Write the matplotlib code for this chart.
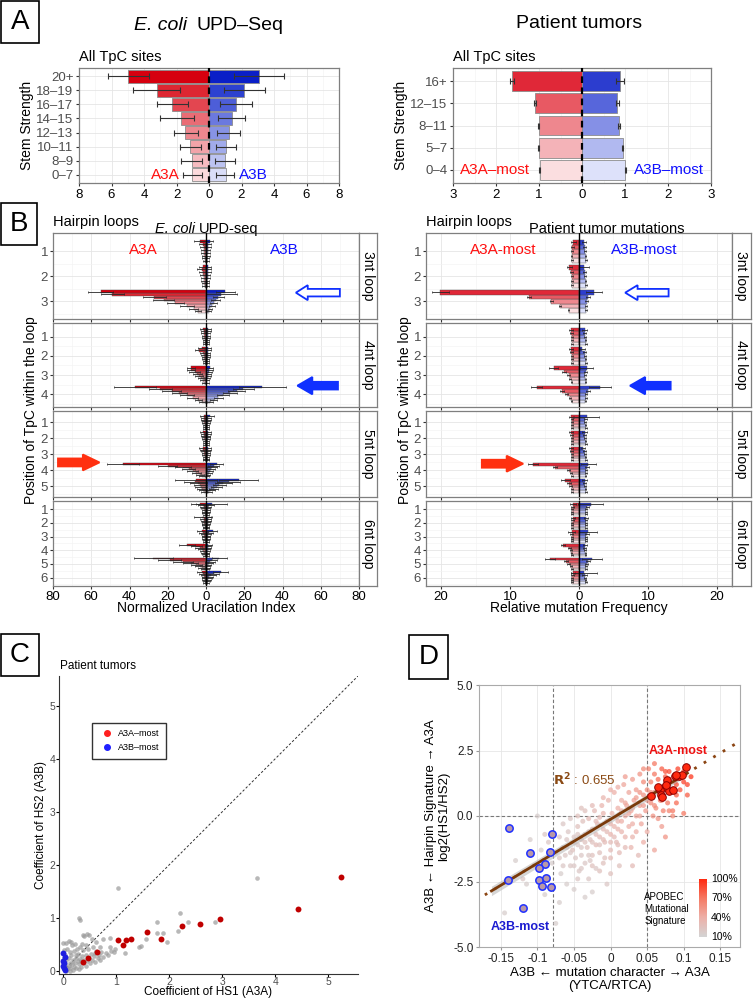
import numpy as np
import matplotlib.pyplot as plt
from matplotlib.patches import Rectangle, FancyArrow
from matplotlib.colors import LinearSegmentedColormap
from matplotlib.lines import Line2D

plt.rcParams['font.family'] = ['Liberation Sans', 'DejaVu Sans']

W, H = 754, 999

# ---------------- panel A: stem strength ----------------
ecoli_stems = ['0–7', '8–9', '10–11', '12–13', '14–15', '16–17', '18–19', '20+']
ecoli_a3a = [1.03, 1.07, 1.15, 1.46, 1.73, 2.26, 3.23, 4.96]
ecoli_a3a_lo = [0.41, 0.41, 0.50, 0.70, 0.95, 1.32, 1.77, 3.72]
ecoli_a3a_hi = [1.63, 1.73, 1.77, 2.18, 3.00, 3.17, 4.67, 6.20]
ecoli_a3b = [1.03, 0.99, 1.03, 1.21, 1.40, 1.67, 2.18, 3.09]
ecoli_a3b_lo = [0.41, 0.39, 0.45, 0.51, 0.58, 0.70, 0.93, 1.56]
ecoli_a3b_hi = [1.56, 1.60, 1.65, 1.91, 2.22, 2.63, 3.46, 4.59]

tumor_stems = ['0–4', '5–7', '8–11', '12–15', '16+']
tumor_a3a = [0.98, 1.01, 1.01, 1.10, 1.62]
tumor_a3a_err = [0.01, 0.01, 0.015, 0.02, 0.05]
tumor_a3b = [1.01, 0.95, 0.86, 0.82, 0.88]
tumor_a3b_err = [0.01, 0.01, 0.015, 0.03, 0.09]

ecoli_reds = ['#FBDADC', '#F6BBC0', '#F2A3A9', '#EE878F', '#E96C75', '#E34650', '#DD2732', '#D6000F']
ecoli_blues = ['#D9DDF8', '#BCC3F1', '#A1ABEB', '#8793E5', '#6B79DF', '#4D5ED8', '#2D42D0', '#0A1FC7']
tumor_reds = ['#FBDEE0', '#F4B3B8', '#EE878E', '#E85963', '#E02838']
tumor_blues = ['#DDE1FA', '#B1B9F0', '#8590E6', '#5766DB', '#2C3DCF']

# ---------------- panel B: hairpin loops ----------------
# per loop -> per position -> values per stem group (weakest ... strongest)
ecoli_loop_a3a = [
    [[0.6, 0.7, 0.8, 0.9, 1.0, 1.2, 1.4, 3.1],
     [0.7, 0.8, 1.0, 1.2, 1.4, 1.8, 2.2, 1.8],
     [4.0, 6.5, 10.0, 16.0, 22.0, 27.0, 49.0, 55.0]],
    [[0.5, 0.6, 0.7, 0.8, 0.9, 1.0, 1.1, 1.5],
     [0.5, 0.6, 0.8, 1.0, 1.2, 1.5, 3.5, 2.0],
     [1.0, 1.5, 2.5, 3.5, 4.5, 6.0, 8.0, 8.0],
     [2.0, 4.0, 7.0, 10.0, 14.0, 18.0, 24.0, 37.0]],
    [[0.5, 0.6, 0.7, 0.8, 0.9, 1.0, 1.1, 1.3],
     [0.5, 0.6, 0.7, 0.8, 0.9, 1.0, 1.2, 1.5],
     [0.5, 0.6, 0.7, 0.9, 1.0, 1.2, 1.4, 1.8],
     [2.0, 3.0, 5.0, 7.0, 9.0, 12.0, 20.0, 43.5],
     [1.0, 1.5, 2.0, 2.5, 3.0, 4.0, 5.5, 5.0]],
    [[0.5, 0.6, 0.7, 0.8, 1.0, 1.2, 1.5, 3.0],
     [0.5, 0.6, 0.7, 0.8, 0.9, 1.0, 1.3, 2.0],
     [0.5, 0.6, 0.7, 0.8, 0.9, 1.2, 1.5, 2.0],
     [0.5, 0.8, 1.0, 1.5, 2.0, 3.0, 5.0, 10.0],
     [1.0, 2.0, 3.0, 5.0, 8.0, 12.0, 19.0, 27.5],
     [0.5, 0.6, 0.7, 0.8, 0.9, 1.0, 1.5, 2.0]],
]
ecoli_loop_a3a_err = [
    [[1.2, 1.3, 1.4, 1.5, 1.6, 1.8, 2.0, 3.2],
     [1.2, 1.3, 1.4, 1.6, 1.8, 2.0, 2.4, 2.0],
     [1.5, 2.5, 3.5, 4.5, 5.5, 6.0, 6.0, 6.5]],
    [[1.0, 1.0, 1.1, 1.2, 1.3, 1.4, 1.5, 1.8],
     [1.0, 1.1, 1.2, 1.3, 1.5, 1.8, 2.5, 2.0],
     [1.2, 1.4, 1.6, 2.0, 2.4, 2.8, 2.0, 2.0],
     [1.5, 2.0, 3.0, 3.5, 4.0, 5.0, 6.0, 11.0]],
    [[1.0, 1.0, 1.1, 1.2, 1.3, 1.4, 1.5, 1.8],
     [1.0, 1.0, 1.1, 1.2, 1.3, 1.4, 1.6, 1.8],
     [1.0, 1.0, 1.1, 1.2, 1.3, 1.5, 1.7, 2.0],
     [1.5, 2.0, 2.5, 3.0, 3.5, 4.0, 5.0, 8.5],
     [1.5, 2.0, 2.5, 3.0, 3.5, 4.5, 6.0, 11.0]],
    [[1.2, 1.3, 1.4, 1.5, 1.6, 1.8, 2.5, 5.0],
     [1.0, 1.1, 1.2, 1.3, 1.4, 1.6, 2.0, 4.5],
     [1.0, 1.1, 1.2, 1.3, 1.4, 1.6, 2.0, 2.5],
     [1.0, 1.2, 1.4, 1.6, 2.0, 2.5, 3.0, 4.0],
     [1.5, 2.0, 2.5, 3.0, 4.0, 5.0, 6.0, 10.0],
     [1.0, 1.1, 1.2, 1.3, 1.4, 1.6, 2.0, 2.5]],
]
ecoli_loop_a3b = [
    [[0.5, 0.6, 0.7, 0.8, 0.9, 1.0, 1.2, 2.0],
     [0.5, 0.6, 0.7, 0.8, 0.9, 1.0, 1.1, 1.0],
     [1.5, 2.0, 3.0, 4.0, 5.0, 6.5, 8.0, 10.0]],
    [[0.5, 0.6, 0.7, 0.8, 0.9, 1.0, 1.1, 1.3],
     [0.5, 0.6, 0.7, 0.8, 0.9, 1.0, 1.1, 1.2],
     [0.5, 0.7, 0.9, 1.1, 1.3, 1.5, 1.8, 2.0],
     [2.0, 4.0, 6.5, 9.0, 12.5, 16.0, 19.5, 29.5]],
    [[0.5, 0.6, 0.7, 0.8, 0.9, 1.0, 1.2, 2.0],
     [0.5, 0.6, 0.7, 0.8, 0.9, 1.0, 1.1, 1.3],
     [0.5, 0.6, 0.7, 0.8, 0.9, 1.0, 1.1, 1.2],
     [0.8, 1.0, 1.5, 2.0, 2.5, 3.0, 4.0, 5.5],
     [1.5, 2.5, 4.0, 5.5, 7.0, 9.0, 12.0, 17.0]],
    [[0.5, 0.6, 0.7, 0.8, 0.9, 1.0, 1.5, 3.0],
     [0.5, 0.6, 0.7, 0.8, 0.9, 1.0, 1.1, 1.5],
     [0.5, 0.6, 0.7, 0.8, 0.9, 1.0, 1.5, 3.5],
     [0.5, 0.6, 0.7, 0.8, 0.9, 1.0, 1.1, 1.3],
     [0.5, 0.7, 0.9, 1.2, 1.5, 2.0, 3.0, 7.0],
     [0.6, 0.8, 1.0, 1.3, 1.7, 2.5, 4.0, 7.7]],
]
ecoli_loop_a3b_err = [
    [[1.0, 1.1, 1.2, 1.3, 1.4, 1.5, 1.6, 1.8],
     [1.0, 1.0, 1.1, 1.2, 1.3, 1.4, 1.5, 1.5],
     [1.0, 1.2, 1.5, 2.0, 2.5, 3.0, 8.0, 5.0]],
    [[1.0, 1.0, 1.1, 1.1, 1.2, 1.3, 1.4, 1.5],
     [1.0, 1.0, 1.1, 1.1, 1.2, 1.3, 1.4, 1.5],
     [1.0, 1.1, 1.2, 1.3, 1.4, 1.5, 1.6, 1.8],
     [1.5, 2.0, 2.5, 3.0, 3.5, 4.5, 5.5, 12.5]],
    [[1.0, 1.0, 1.1, 1.2, 1.3, 1.4, 1.6, 2.0],
     [1.0, 1.0, 1.1, 1.1, 1.2, 1.3, 1.4, 1.5],
     [1.0, 1.0, 1.1, 1.1, 1.2, 1.3, 1.4, 1.5],
     [1.0, 1.2, 1.4, 1.6, 2.0, 2.5, 3.0, 3.5],
     [1.5, 2.0, 2.5, 3.0, 3.5, 4.5, 6.0, 10.0]],
    [[1.0, 1.1, 1.2, 1.3, 1.4, 1.6, 2.5, 8.0],
     [1.0, 1.0, 1.1, 1.2, 1.3, 1.4, 1.5, 1.8],
     [1.0, 1.1, 1.2, 1.3, 1.4, 1.5, 2.0, 2.5],
     [1.0, 1.0, 1.1, 1.2, 1.3, 1.4, 1.5, 1.6],
     [1.0, 1.2, 1.4, 1.6, 2.0, 2.5, 3.0, 4.0],
     [1.0, 1.2, 1.4, 1.6, 2.0, 2.5, 3.0, 4.0]],
]

tumor_loop_a3a = [
    [[1.0, 1.05, 1.0, 0.95, 0.8],
     [1.0, 1.0, 1.05, 1.1, 1.4],
     [1.5, 2.75, 4.0, 7.2, 20.1]],
    [[1.0, 1.0, 1.05, 1.1, 1.2],
     [1.0, 1.0, 1.05, 1.1, 1.2],
     [1.06, 1.3, 1.5, 2.2, 3.7],
     [1.06, 1.3, 1.8, 2.5, 6.1]],
    [[1.0, 1.0, 1.0, 1.0, 1.1],
     [1.0, 1.0, 1.0, 1.05, 1.1],
     [1.0, 1.0, 1.05, 1.1, 1.2],
     [1.0, 1.2, 1.5, 3.5, 6.7],
     [1.0, 1.05, 1.2, 1.5, 2.0]],
    [[1.0, 1.0, 0.95, 0.9, 0.9],
     [1.0, 1.0, 0.95, 0.9, 0.9],
     [1.0, 1.0, 1.0, 1.05, 1.06],
     [1.0, 1.1, 1.2, 1.4, 2.3],
     [1.0, 1.2, 1.5, 1.9, 4.2],
     [1.0, 1.0, 0.95, 0.9, 0.9]],
]
tumor_loop_a3a_err = [
    [[0.1, 0.1, 0.15, 0.2, 0.3],
     [0.1, 0.1, 0.15, 0.2, 0.4],
     [0.1, 0.15, 0.2, 0.3, 1.3]],
    [[0.1, 0.1, 0.15, 0.2, 0.3],
     [0.1, 0.1, 0.15, 0.2, 0.3],
     [0.1, 0.15, 0.2, 0.3, 0.65],
     [0.1, 0.15, 0.2, 0.3, 0.8]],
    [[0.1, 0.1, 0.15, 0.2, 0.3],
     [0.1, 0.1, 0.15, 0.2, 0.3],
     [0.1, 0.1, 0.15, 0.2, 0.3],
     [0.1, 0.15, 0.2, 0.3, 0.7],
     [0.1, 0.15, 0.2, 0.3, 0.65]],
    [[0.1, 0.1, 0.15, 0.2, 0.4],
     [0.1, 0.1, 0.15, 0.2, 0.3],
     [0.1, 0.1, 0.15, 0.2, 0.5],
     [0.1, 0.1, 0.15, 0.2, 0.3],
     [0.1, 0.15, 0.2, 0.3, 0.7],
     [0.1, 0.1, 0.15, 0.2, 0.3]],
]
tumor_loop_a3b = [
    [[1.0, 0.95, 0.9, 0.85, 0.7],
     [1.0, 0.95, 0.9, 0.8, 0.7],
     [1.0, 1.05, 1.1, 1.35, 2.2]],
    [[1.0, 0.95, 0.9, 0.85, 0.8],
     [1.0, 0.95, 0.9, 0.8, 0.5],
     [0.95, 0.9, 0.9, 0.95, 1.1],
     [0.9, 0.95, 1.0, 1.35, 3.0]],
    [[1.0, 0.95, 0.9, 0.9, 1.1],
     [1.0, 0.95, 0.9, 0.85, 0.8],
     [1.0, 0.95, 0.9, 0.8, 0.6],
     [0.95, 0.95, 1.0, 1.1, 1.35],
     [1.0, 0.95, 0.9, 0.85, 0.8]],
    [[1.0, 1.0, 1.05, 1.2, 1.7],
     [1.0, 1.0, 1.0, 1.0, 1.0],
     [1.0, 1.0, 1.05, 1.1, 1.35],
     [0.95, 0.9, 0.85, 0.85, 0.85],
     [1.0, 1.0, 1.1, 1.3, 1.9],
     [1.0, 0.95, 0.9, 0.8, 0.7]],
]
tumor_loop_a3b_err = [
    [[0.1, 0.1, 0.15, 0.2, 0.3],
     [0.1, 0.1, 0.15, 0.2, 0.75],
     [0.1, 0.15, 0.2, 0.3, 1.2]],
    [[0.1, 0.1, 0.15, 0.2, 0.3],
     [0.1, 0.1, 0.15, 0.2, 0.3],
     [0.1, 0.1, 0.15, 0.2, 1.0],
     [0.1, 0.15, 0.2, 0.3, 1.6]],
    [[0.1, 0.1, 0.15, 0.2, 1.8],
     [0.1, 0.1, 0.15, 0.2, 0.3],
     [0.1, 0.1, 0.15, 0.2, 0.3],
     [0.1, 0.15, 0.2, 0.3, 1.05],
     [0.1, 0.1, 0.15, 0.2, 0.3]],
    [[0.1, 0.1, 0.15, 0.2, 1.8],
     [0.1, 0.1, 0.15, 0.2, 0.3],
     [0.1, 0.1, 0.15, 0.3, 1.3],
     [0.1, 0.1, 0.15, 0.2, 0.3],
     [0.1, 0.15, 0.2, 0.3, 1.5],
     [0.1, 0.1, 0.15, 0.3, 1.9]],
]
loop_names = ['3nt loop', '4nt loop', '5nt loop', '6nt loop']

# ---------------- panel C: HS coefficients ----------------
c_red_x = [5.24, 4.42, 2.95, 2.58, 2.24, 1.84, 1.58, 1.27, 1.19, 1.13, 1.04, 0.63, 0.46, 0.38]
c_red_y = [1.76, 1.17, 0.97, 0.88, 0.84, 0.60, 0.74, 0.60, 0.59, 0.48, 0.59, 0.35, 0.25, 0.16]
c_blue_x = [0.00, 0.04, 0.00, 0.02, 0.00, 0.01, 0.03]
c_blue_y = [0.33, 0.27, 0.18, 0.15, 0.10, 0.05, 0.02]
c_gray_x = [3.65, 1.03, 2.21, 0.30, 0.31, 2.87, 2.35, 1.76, 2.16, 1.77, 1.89, 1.96, 1.57, 1.46,
            1.43, 1.16, 0.89, 0.88, 0.98, 0.45, 0.37, 0.11, 0.00,
            0.02, 0.03, 0.05, 0.06, 0.08, 0.10, 0.10, 0.12, 0.13, 0.15, 0.16, 0.18, 0.20, 0.20,
            0.22, 0.24, 0.25, 0.27, 0.28, 0.30, 0.31, 0.32, 0.34, 0.35, 0.37, 0.38, 0.40, 0.42,
            0.43, 0.45, 0.47, 0.48, 0.50, 0.52, 0.55, 0.56, 0.58, 0.60, 0.62, 0.65, 0.68, 0.70,
            0.72, 0.75, 0.80, 0.85, 0.90, 0.95, 0.04, 0.08, 0.12, 0.16, 0.05, 0.22, 0.26, 0.00,
            0.01, 0.14, 0.35, 0.43, 0.70, 0.05, 0.18, 0.30, 0.02, 0.75, 0.62, 0.55, 0.40, 0.48,
            0.12, 0.25, 0.33, 0.60]
c_gray_y = [1.75, 1.56, 1.09, 0.99, 0.95, 0.93, 0.93, 0.92, 0.75, 0.72, 0.72, 0.55, 0.60, 0.46,
            0.44, 0.33, 0.61, 0.45, 0.41, 0.70, 0.67, 0.57, 0.52,
            0.05, 0.12, 0.08, 0.20, 0.03, 0.10, 0.25, 0.15, 0.05, 0.30, 0.12, 0.20, 0.08, 0.38,
            0.15, 0.25, 0.05, 0.18, 0.32, 0.12, 0.45, 0.22, 0.08, 0.28, 0.15, 0.40, 0.20, 0.10,
            0.30, 0.18, 0.42, 0.25, 0.14, 0.32, 0.20, 0.45, 0.28, 0.16, 0.38, 0.24, 0.30, 0.20,
            0.36, 0.27, 0.33, 0.30, 0.38, 0.35, 0.30, 0.42, 0.35, 0.48, 0.52, 0.50, 0.42, 0.20,
            0.40, 0.55, 0.50, 0.48, 0.45, 0.00, 0.02, 0.03, 0.25, 0.60, 0.55, 0.60, 0.65, 0.68,
            0.00, 0.30, 0.18, 0.33]

# ---------------- panel D: hairpin signature vs mutation character ----------------
d_x = [-0.145, -0.13, -0.12, -0.11, -0.10, -0.09, -0.085, -0.078, -0.075, -0.07, -0.068, -0.065,
       -0.06, -0.06, -0.058, -0.055, -0.052, -0.05, -0.05, -0.048, -0.045, -0.045, -0.043, -0.04,
       -0.04, -0.038, -0.035, -0.035, -0.032, -0.03, -0.03, -0.028, -0.025, -0.025, -0.022, -0.02,
       -0.02, -0.018, -0.015, -0.015, -0.012, -0.01, -0.01, -0.008, -0.005, -0.005, -0.003, 0.0,
       0.0, 0.002, 0.005, 0.005, 0.008, 0.01, 0.01, 0.012, 0.015, 0.015, 0.018, 0.02, 0.02, 0.022,
       0.025, 0.025, 0.028, 0.03, 0.03, 0.032, 0.035, 0.035, 0.038, 0.04, 0.04, 0.042, 0.045,
       0.045, 0.048, 0.05, 0.05, 0.052, 0.055, 0.055, 0.058, 0.06, 0.06, 0.062, 0.065, 0.068,
       0.07, 0.07, 0.072, 0.075, 0.078, 0.08, 0.082, 0.085, 0.088, 0.09, 0.092, 0.095, 0.10, 0.105,
       -0.095, -0.105, -0.115, -0.09, -0.07, -0.055, -0.04, -0.025, 0.0, 0.03, 0.06, 0.075, -0.065,
       -0.035, -0.015, 0.008, 0.045, 0.065, 0.085, 0.10, -0.062, -0.028, -0.008, 0.012, 0.028,
       -0.045, -0.05, -0.045, -0.04, -0.035, -0.03, -0.03, -0.025, -0.02, -0.02, -0.015, -0.01,
       -0.01, -0.005, 0.0, 0.0, 0.005, 0.01, 0.015, 0.015, 0.02, 0.025, 0.03, 0.03, 0.035, 0.04,
       0.04, 0.045, 0.05, 0.055, 0.06, 0.065, 0.07, 0.075, 0.08, 0.085, 0.09, -0.055, -0.06,
       -0.065, -0.07, -0.075, -0.08, -0.05, -0.04, -0.025, -0.015, 0.0, 0.01, 0.02, 0.035, -0.045,
       -0.035, -0.025, -0.01, 0.0, 0.01, 0.02, 0.045, 0.06, 0.075, 0.08, 0.09, 0.095, 0.10, 0.105,
       0.11]
d_y = [-3.7, -1.7, -2.4, -0.9, 0.0, -0.7, -1.0, -2.7, -4.1, -1.6, -2.2, -0.3,
       -1.2, -2.6, -0.6, -1.9, -1.3, -0.8, -2.8, -1.6, -0.4, -1.1, -2.1, -0.9,
       -1.5, -0.2, -1.8, -0.7, -1.2, -2.4, -0.1, -0.9, -1.5, -0.5, 0.2, -1.1,
       -2.0, -0.3, -0.8, -1.4, 0.4, -0.5, -1.8, -1.0, -0.2, -2.6, 0.6, -0.7,
       -1.3, 0.1, -0.4, 0.9, -1.0, 0.3, -0.2, -1.9, 0.6, -0.6, 1.2, 0.0, -1.2, 0.4,
       0.9, -0.4, 0.2, 1.4, -0.8, 0.6, 0.0, 1.0, -1.5, 0.4, 1.6, -0.3, 0.8,
       1.3, 0.2, 1.0, -0.6, 1.8, 0.5, 1.3, 0.0, 1.6, 0.9, 0.3, 1.4, 0.6,
       1.8, -0.4, 0.2, 1.5, 0.5, 1.7, 0.9, 0.0, 1.3, 0.5, 1.8, 1.0, 1.3, 0.8,
       -1.3, -1.9, -2.6, -3.0, -3.3, -0.1, 0.3, -2.9, -2.2, -1.9, -1.3, -0.8, -1.9,
       -3.1, -0.05, -0.05, -1.0, -0.1, 0.2, 0.1, -1.5, -1.7, -1.6, -1.4, -1.2,
       -2.4, -1.0, -0.7, -1.2, -1.0, -0.6, -1.5, -1.0, -0.7, -0.2, -1.1, -0.9,
       0.1, -0.6, -0.3, -1.0, -0.8, -0.5, -0.2, 0.2, 0.5, 0.1, 0.3, -0.3, 0.7, 0.0,
       0.9, 0.4, 0.6, 0.9, 0.4, 1.0, 0.6, 1.2, 1.4, 1.0, 1.2, -1.4, -0.9,
       -1.2, -0.8, -1.4, -1.8, -1.9, -2.0, -1.9, -2.1, -1.6, -1.1, -0.8, -0.6, 0.0,
       0.2, 0.4, 0.7, 1.0, 1.1, 1.5, 1.8, 2.0, 1.7, 0.2, 0.8, 1.5, 1.7, 1.2,
       1.5]
d_sig = [15, 15, 20, 15, 15, 20, 20, 15, 15, 20, 15, 20,
         20, 15, 20, 20, 25, 20, 15, 20, 25, 20, 20, 25,
         20, 25, 20, 25, 25, 20, 30, 25, 25, 30, 30, 30,
         20, 30, 30, 25, 35, 30, 25, 30, 35, 20, 35, 35,
         30, 35, 35, 40, 30, 40, 35, 25, 40, 35, 45, 40, 30, 45,
         45, 40, 45, 50, 35, 50, 45, 50, 30, 50, 55, 45, 55,
         60, 50, 60, 40, 65, 60, 65, 55, 70, 65, 60, 75, 70,
         80, 50, 65, 80, 70, 85, 80, 60, 85, 75, 90, 85, 90, 80,
         15, 15, 15, 15, 15, 20, 25, 15, 25, 30, 45, 55, 20,
         15, 30, 35, 40, 55, 70, 70, 20, 20, 25, 30, 35,
         20, 20, 20, 20, 25, 25, 20, 25, 30, 30, 25, 30,
         35, 30, 35, 30, 30, 35, 40, 40, 45, 45, 45, 40, 50, 45,
         55, 50, 55, 60, 60, 70, 65, 75, 80, 80, 85, 20, 20,
         15, 20, 15, 15, 20, 20, 25, 25, 30, 30, 35, 40, 25,
         25, 30, 35, 40, 40, 50, 60, 70, 85, 65, 80, 90, 95, 90,
         95]
d_a3a_x = [0.103, 0.093, 0.088, 0.097, 0.077, 0.074, 0.068, 0.065, 0.055, 0.069, 0.070, 0.080,
           0.085, 0.076, 0.090]
d_a3a_y = [1.88, 1.53, 1.53, 1.58, 1.37, 1.11, 0.99, 1.11, 0.76, 0.80, 0.73, 0.95, 0.99, 1.18,
           1.56]
d_a3b_x = [-0.139, -0.080, -0.110, -0.083, -0.090, -0.098, -0.140, -0.098, -0.088, -0.094,
           -0.082, -0.120]
d_a3b_y = [-0.45, -0.69, -1.41, -1.39, -1.84, -2.00, -2.45, -2.45, -2.36, -2.68, -2.71, -3.50]
fit_x = [-0.163, 0.105]
fit_y = [-2.86, 1.64]
fit_ext_x = [-0.185, 0.185]
fit_ext_y = [-3.23, 2.99]
sig_ticks = [10, 40, 70, 100]

fig = plt.figure(figsize=(W / 100, H / 100), dpi=100)


def fx(px):
    return px / W


def fy(py):
    return 1 - py / H


def ftext(px, py, s, **kw):
    kw.setdefault('ha', 'left')
    kw.setdefault('va', 'center')
    fig.text(fx(px), fy(py), s, **kw)


def letter_box(x0, y0, x1, y1, s):
    fig.add_artist(Rectangle((fx(x0), fy(y1)), (x1 - x0) / W, (y1 - y0) / H,
                             transform=fig.transFigure, fill=False, ec='black', lw=1.2))
    ftext((x0 + x1) / 2, (y0 + y1) / 2, s, ha='center', fontsize=20)


def stem_panel(rect, cats, a3a, a3a_lo, a3a_hi, a3b, a3b_lo, a3b_hi, reds, blues, lim,
               lab_a, lab_b, lab_xa, lab_xb):
    ax = fig.add_axes(rect)
    y = np.arange(len(cats))
    a3a = np.array(a3a); a3b = np.array(a3b)
    ax.barh(y, -a3a, height=0.9, color=reds, edgecolor='#8c8c8c', lw=0.6, zorder=2)
    ax.barh(y, a3b, height=0.9, color=blues, edgecolor='#8c8c8c', lw=0.6, zorder=2)
    ax.errorbar(-a3a, y, xerr=[np.array(a3a_hi) - a3a, a3a - np.array(a3a_lo)], fmt='none',
                ecolor='#333333', elinewidth=0.8, capsize=2, capthick=0.8, zorder=3)
    ax.errorbar(a3b, y, xerr=[a3b - np.array(a3b_lo), np.array(a3b_hi) - a3b], fmt='none',
                ecolor='#333333', elinewidth=0.8, capsize=2, capthick=0.8, zorder=3)
    ax.axvline(0, color='black', ls=(0, (3, 2)), lw=1.6, zorder=4)
    step = 2 if lim > 4 else 1
    ticks = np.arange(-lim, lim + 1, step)
    ax.set_xticks(ticks)
    ax.set_xticklabels([str(abs(int(t))) for t in ticks], fontsize=9.5)
    ax.set_xticks(np.arange(-lim, lim + 0.01, step / 2), minor=True)
    ax.set_yticks(y)
    ax.set_yticklabels(cats, fontsize=9.5, color='#4D4D4D')
    ax.set_xlim(-lim, lim)
    ax.set_ylim(-0.6, len(cats) - 0.4)
    ax.tick_params(length=2.5, color='#333333', pad=1.5)
    ax.tick_params(which='minor', length=0)
    ax.grid(which='major', color='#E5E5E5', lw=0.6)
    ax.grid(which='minor', axis='x', color='#F2F2F2', lw=0.4)
    ax.set_axisbelow(True)
    for s in ax.spines.values():
        s.set_color('#7F7F7F'); s.set_linewidth(0.9)
    ax.set_ylabel('Stem Strength', fontsize=10, labelpad=2)
    ax.text(lab_xa, 0, lab_a, color='#FF1010', fontsize=11, ha='center', va='center', zorder=5)
    ax.text(lab_xb, 0, lab_b, color='#1010FF', fontsize=11, ha='center', va='center', zorder=5)
    return ax


stem_panel([fx(79), fy(183), 260 / W, 115 / H], ecoli_stems, ecoli_a3a, ecoli_a3a_lo, ecoli_a3a_hi,
           ecoli_a3b, ecoli_a3b_lo, ecoli_a3b_hi, ecoli_reds, ecoli_blues, 8,
           'A3A', 'A3B', -2.67, 2.74)
tumor_a3a_lo = [v - e for v, e in zip(tumor_a3a, tumor_a3a_err)]
tumor_a3a_hi = [v + e for v, e in zip(tumor_a3a, tumor_a3a_err)]
tumor_a3b_lo = [v - e for v, e in zip(tumor_a3b, tumor_a3b_err)]
tumor_a3b_hi = [v + e for v, e in zip(tumor_a3b, tumor_a3b_err)]
stem_panel([fx(453), fy(183), 258 / W, 115 / H], tumor_stems, tumor_a3a, tumor_a3a_lo, tumor_a3a_hi,
           tumor_a3b, tumor_a3b_lo, tumor_a3b_hi, tumor_reds, tumor_blues, 3,
           'A3A–most', 'A3B–most', -2.02, 2.03)

letter_box(1, 1, 39, 43, 'A')
ftext(187, 25, 'E. coli', ha='right', fontsize=14, style='italic')
ftext(196, 25, 'UPD–Seq', fontsize=14)
ftext(579, 23, 'Patient tumors', ha='center', fontsize=14)
ftext(79, 57, 'All TpC sites', fontsize=10.5)
ftext(453, 57, 'All TpC sites', fontsize=10.5)

# ---------------- panel B ----------------
facet_tops = [233, 323, 411, 501]
facet_bots = [319, 407, 497, 586]
facet_ylims = [(0.27, 3.7), (0.29, 4.66), (0.29, 5.69), (0.4, 6.62)]


def hairpin_panel(x_left, strip_w, vals_a, err_a, vals_b, err_b, reds, blues, lim, step, arrows,
                  lab_a, lab_b, lab_xa, lab_xb):
    K = len(reds)
    dw = 0.9 / K
    offs = dw * ((K - 1) / 2 - np.arange(K))
    tmax = (lim // step) * step
    ticks = np.arange(-tmax, tmax + 0.01, step)
    mticks = np.arange(-tmax - step / 2, tmax + step / 2 + 0.01, step / 2)
    mticks = mticks[np.abs(mticks) <= lim]
    axes = []
    for i in range(4):
        top, bot = facet_tops[i], facet_bots[i]
        ax = fig.add_axes([fx(x_left), fy(bot), 306 / W, (bot - top) / H])
        for j in range(len(vals_a[i])):
            yc = j + 1 + offs
            va = np.array(vals_a[i][j]); vb = np.array(vals_b[i][j])
            ax.barh(yc, -va, height=dw, color=reds, edgecolor='#4a4a4a', lw=0.3, zorder=2)
            ax.barh(yc, vb, height=dw, color=blues, edgecolor='#4a4a4a', lw=0.3, zorder=2)
            ax.errorbar(-va, yc, xerr=err_a[i][j], fmt='none', ecolor='#262626',
                        elinewidth=0.6, capsize=0.8, capthick=0.5, zorder=3)
            ax.errorbar(vb, yc, xerr=err_b[i][j], fmt='none', ecolor='#262626',
                        elinewidth=0.6, capsize=0.8, capthick=0.5, zorder=3)
        ax.axvline(0, color='black', lw=1.0, zorder=4)
        n = len(vals_a[i])
        ax.set_yticks(np.arange(1, n + 1))
        ax.set_yticklabels([str(k) for k in range(1, n + 1)], fontsize=9.5, color='#4D4D4D')
        ax.set_yticks(np.arange(1.5, n + 0.6, 1), minor=True)
        ax.set_xticks(ticks)
        ax.set_xticks(mticks, minor=True)
        if i == 3:
            ax.set_xticklabels([str(abs(int(t))) for t in ticks], fontsize=9.5)
        else:
            ax.set_xticklabels([])
        ax.set_xlim(-lim, lim)
        ax.set_ylim(facet_ylims[i][1], facet_ylims[i][0])
        ax.tick_params(length=2, color='#333333', pad=1.5)
        ax.tick_params(which='minor', length=0)
        ax.grid(which='major', color='#E5E5E5', lw=0.6)
        ax.grid(which='minor', color='#F2F2F2', lw=0.4)
        ax.set_axisbelow(True)
        for s in ax.spines.values():
            s.set_color('#7F7F7F'); s.set_linewidth(0.9)
        sax = fig.add_axes([fx(x_left + 306), fy(bot), strip_w / W, (bot - top) / H])
        sax.set_xticks([]); sax.set_yticks([])
        for s in sax.spines.values():
            s.set_color('#7F7F7F'); s.set_linewidth(0.9)
        sax.text(0.5, 0.5, loop_names[i], rotation=270, ha='center', va='center',
                 fontsize=10, transform=sax.transAxes)
        axes.append(ax)
    for fi, x_tail, x_tip, yv, col, filled, bw, hw, hl in arrows:
        axes[fi].add_patch(FancyArrow(x_tail, yv, x_tip - x_tail, 0, width=bw, head_width=hw,
                                      head_length=hl, length_includes_head=True,
                                      fc=col if filled else 'white', ec=col, lw=1.3, zorder=5))
    axes[0].text(lab_xa, 0.95, lab_a, color='#FF1010', fontsize=11, ha='center', va='center')
    axes[0].text(lab_xb, 0.95, lab_b, color='#1010FF', fontsize=11, ha='center', va='center')
    return axes


ecoli_arrows = [(0, 70, 47, 2.65, '#1030FF', False, 0.3, 0.6, 6.2),
                (1, 69, 47.8, 3.55, '#1030FF', True, 0.4, 0.9, 7.8),
                (2, -77.4, -55.7, 3.52, '#FF3010', True, 0.5, 1.0, 8.7)]
tumor_arrows = [(0, 13.0, 6.7, 2.65, '#1030FF', False, 0.3, 0.6, 1.8),
                (1, 13.3, 7.4, 3.55, '#1030FF', True, 0.4, 0.9, 2.2),
                (2, -14.1, -8.1, 3.6, '#FF3010', True, 0.5, 1.0, 2.4)]

hairpin_panel(53, 18, ecoli_loop_a3a, ecoli_loop_a3a_err, ecoli_loop_a3b, ecoli_loop_a3b_err,
              ecoli_reds, ecoli_blues, 80, 20, ecoli_arrows, 'A3A', 'A3B', -33, 41)
hairpin_panel(426, 19, tumor_loop_a3a, tumor_loop_a3a_err, tumor_loop_a3b, tumor_loop_a3b_err,
              tumor_reds, tumor_blues, 22.2, 10, tumor_arrows, 'A3A-most', 'A3B-most', -11, 9.5)

letter_box(1, 203, 37, 245, 'B')
ftext(53, 222, 'Hairpin loops', fontsize=10.5)
ftext(155, 229, 'E. coli', fontsize=10.5, style='italic')
ftext(199, 229, 'UPD-seq', fontsize=10.5)
ftext(426, 222, 'Hairpin loops', fontsize=10.5)
ftext(529, 229, 'Patient tumor mutations', fontsize=10.5)
ftext(31, 410, 'Position of TpC within the loop', ha='center', rotation=90, fontsize=10)
ftext(405, 410, 'Position of TpC within the loop', ha='center', rotation=90, fontsize=10)
ftext(206, 608, 'Normalized Uracilation Index', ha='center', fontsize=10)
ftext(579, 608, 'Relative mutation Frequency', ha='center', fontsize=10)

# ---------------- panel C ----------------
letter_box(1, 634, 39, 676, 'C')
ftext(60, 666, 'Patient tumors', fontsize=8.5)
axc = fig.add_axes([fx(59), fy(974), 299 / W, 298 / H])
axc.scatter(c_gray_x, c_gray_y, s=11, color='#9A9A9A', alpha=0.7, lw=0, zorder=2)
axc.scatter(c_red_x, c_red_y, s=18, color='#C00000', lw=0, zorder=3)
axc.scatter(c_blue_x, c_blue_y, s=18, color='#1F1FE0', lw=0, zorder=3)
axc.plot([0, 5.6], [0, 5.6], color='#333333', ls=(0, (2.5, 2)), lw=0.7, zorder=1)
axc.set_xlim(-0.08, 5.56)
axc.set_ylim(-0.06, 5.56)
axc.set_xticks(range(6)); axc.set_yticks(range(6))
axc.tick_params(labelsize=7.5, labelcolor='#4D4D4D', length=2, pad=0.5)
for k in ['top', 'right']:
    axc.spines[k].set_visible(False)
for k in ['left', 'bottom']:
    axc.spines[k].set_color('#333333'); axc.spines[k].set_linewidth(0.8)
ftext(208, 992, 'Coefficient of HS1 (A3A)', ha='center', fontsize=8.5)
axc.set_ylabel('Coefficient of HS2 (A3B)', fontsize=8.5, labelpad=2)
handles = [Line2D([], [], marker='o', ls='', color='#FF2020', markersize=4, label='A3A–most'),
           Line2D([], [], marker='o', ls='', color='#2020FF', markersize=4, label='A3B–most')]
leg = axc.legend(handles=handles, loc='upper left', bbox_to_anchor=(0.094, 0.859), fontsize=6.5,
                 frameon=True, fancybox=False, handletextpad=0.2, borderpad=0.7, labelspacing=0.6)
leg.get_frame().set_edgecolor('black')
leg.get_frame().set_linewidth(1.0)

# ---------------- panel D ----------------
letter_box(409, 635, 448, 679, 'D')
sig_cmap = LinearSegmentedColormap.from_list('sig', ['#D4D4D4', '#EDB0A8', '#F57A64', '#FF2A10'])
axd = fig.add_axes([fx(479), fy(947), 261 / W, 262 / H])
axd.scatter(d_x, d_y, c=d_sig, cmap=sig_cmap, vmin=10, vmax=100, s=13, alpha=0.75, lw=0, zorder=2)
axd.plot(fit_ext_x, fit_ext_y, color='#8B4513', ls=(0, (1, 3)), lw=2, zorder=3)
axd.fill_between(fit_x, [fit_y[0] - 0.18, fit_y[1] - 0.1], [fit_y[0] + 0.18, fit_y[1] + 0.1],
                 color='#BBBBBB', alpha=0.6, lw=0, zorder=3)
axd.plot(fit_x, fit_y, color='#7A3A0A', lw=2, zorder=4)
axd.scatter(d_a3a_x, d_a3a_y, s=30, color='#FF2A10', edgecolor='#8B0000', lw=0.7, zorder=5)
axd.scatter(d_a3b_x, d_a3b_y, s=28, color='#B898A8', edgecolor='#2030FF', lw=1.1, zorder=5)
axd.axvline(-0.0786, color='#777777', ls=(0, (3, 2)), lw=0.8, zorder=1)
axd.axvline(0.05, color='#777777', ls=(0, (3, 2)), lw=0.8, zorder=1)
axd.axhline(0, color='#777777', ls=(0, (3, 2)), lw=0.8, zorder=1)
xt = [-0.15, -0.1, -0.05, 0, 0.05, 0.1, 0.15]
axd.set_xticks(xt)
axd.set_xticklabels(['-0.15', '-0.1', '-0.05', '0', '0.05', '0.1', '0.15'])
yt = [-5, -2.5, 0, 2.5, 5]
axd.set_yticks(yt)
axd.set_yticklabels(['-5.0', '-2.5', '0.0', '2.5', '5.0'])
axd.set_xlim(-0.18, 0.177)
axd.set_ylim(-5, 5)
axd.tick_params(labelsize=8.5, labelcolor='#222222', length=2.5, color='#999999', pad=1.5)
axd.grid(color='#E6E6E6', lw=0.6)
axd.set_axisbelow(True)
for s in axd.spines.values():
    s.set_color('#AAAAAA'); s.set_linewidth(0.8)
axd.set_xlabel('A3B ← mutation character → A3A\n(YTCA/RTCA)', fontsize=9.5, labelpad=2,
               linespacing=1.1)
axd.set_ylabel('A3B ← Hairpin Signature → A3A\nlog2(HS1/HS2)', fontsize=9.5, labelpad=2,
               linespacing=1.1)
axd.text(0.092, 2.48, 'A3A-most', color='#EE1111', fontsize=9, fontweight='bold', ha='center',
         va='center')
axd.text(-0.124, -4.24, 'A3B-most', color='#1A1AD0', fontsize=9, fontweight='bold', ha='center',
         va='center')
axd.text(-0.079, 1.39, r'$\mathbf{R^2}$ : 0.655', color='#8B4A14', fontsize=9.5, ha='left',
         va='center')
axd.text(0.046, -3.55, 'APOBEC\nMutational\nSignature', fontsize=7, ha='left', va='center',
         linespacing=1.2)
cax = fig.add_axes([fx(699), fy(937), 8 / W, 58 / H])
cax.imshow(np.linspace(10, 100, 100)[:, None], aspect='auto', cmap=sig_cmap, origin='lower',
           vmin=10, vmax=100)
cax.set_xticks([]); cax.set_yticks([])
for s in cax.spines.values():
    s.set_visible(False)
for v in sig_ticks:
    ftext(711, 937 - (v - 10) / 90 * 58, f'{v}%', fontsize=7.5)

fig.savefig('out.png', dpi=100)
